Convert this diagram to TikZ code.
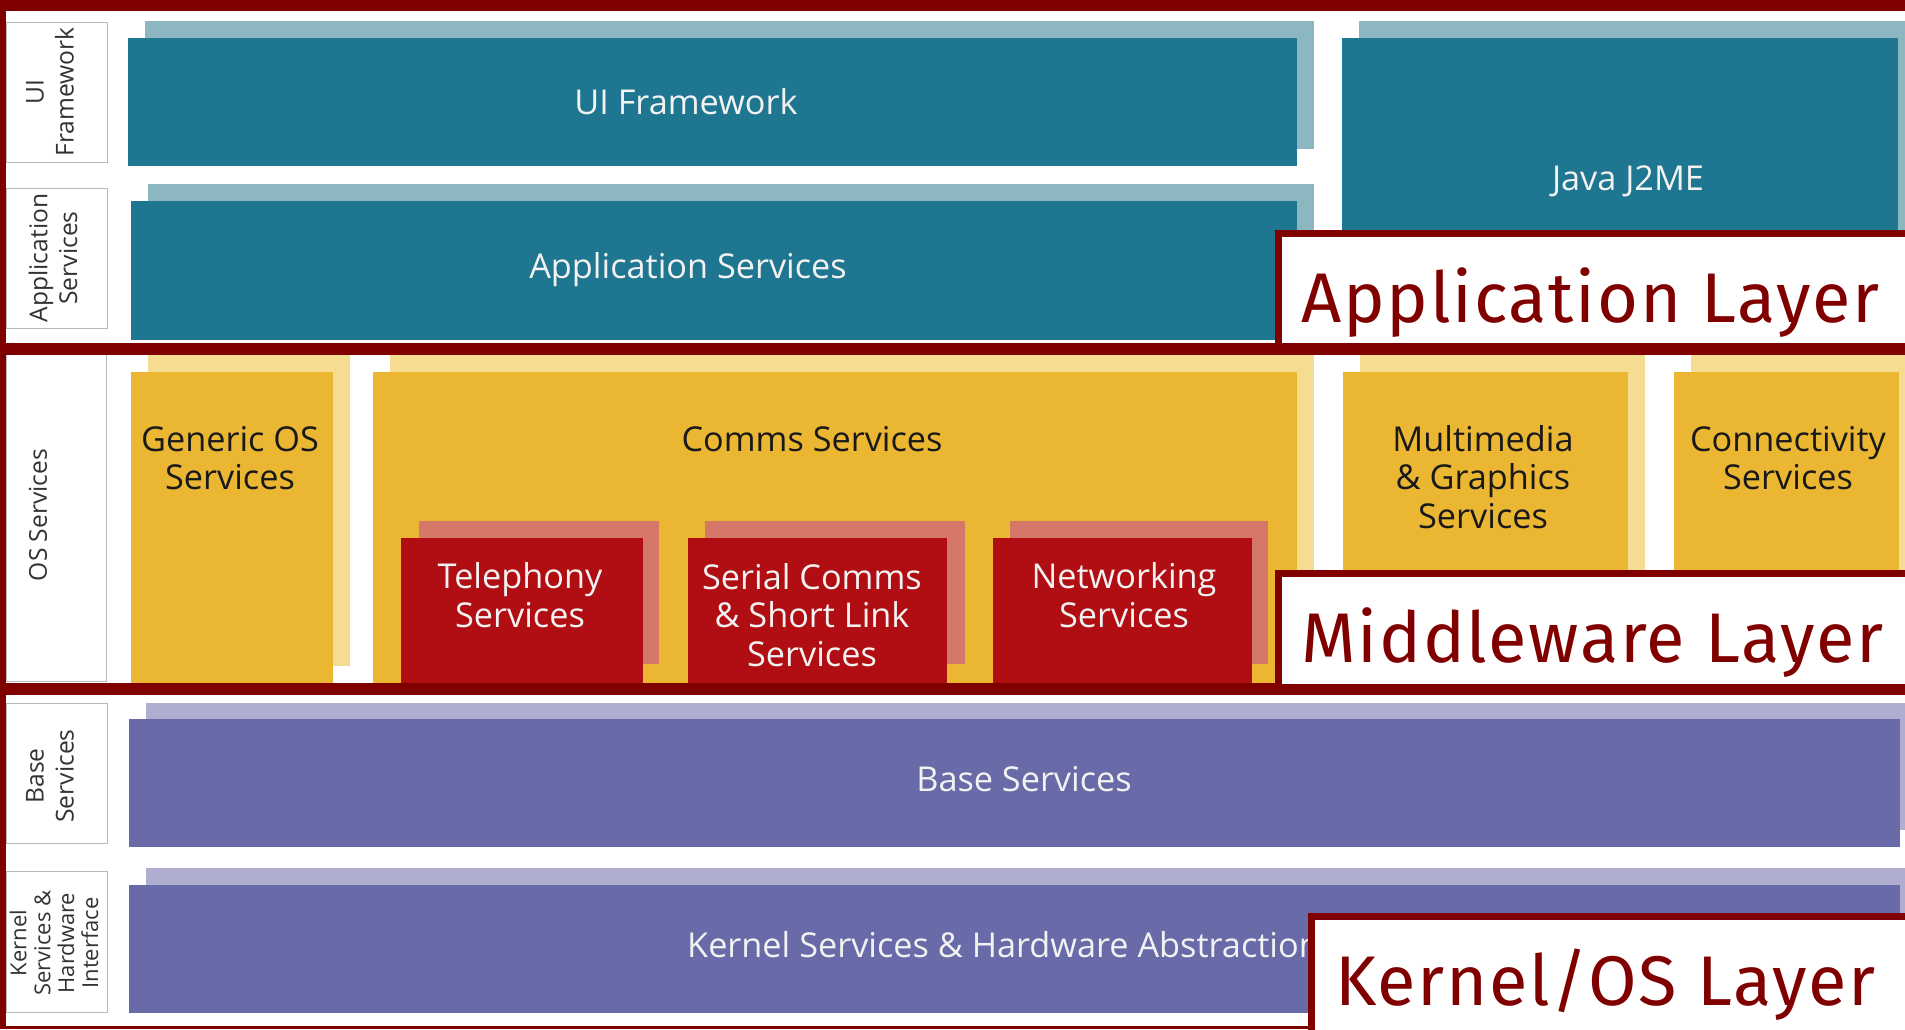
\documentclass[tikz,border=0pt]{standalone}
\usepackage{fontspec}
\setmainfont{Open Sans}
\newfontfamily\layerfont[LetterSpace=2.5]{Fira Sans}

\definecolor{framered}{HTML}{800000}
\definecolor{tealmain}{HTML}{1F7690}
\definecolor{tealshade}{HTML}{8DB7C0}
\definecolor{ambermain}{HTML}{EBB733}
\definecolor{ambershade}{HTML}{F5DC90}
\definecolor{redmain}{HTML}{B00E12}
\definecolor{redshade}{HTML}{D5786A}
\definecolor{violetmain}{HTML}{696AA8}
\definecolor{violetshade}{HTML}{B0AED0}
\definecolor{textwhite}{HTML}{F2F2F2}

\begin{document}
\begin{tikzpicture}[x=0.02cm,y=-0.02cm,
    lighttext/.style={font=\fontsize{19.5}{22}\selectfont,align=center,text=textwhite},
    darktext/.style={font=\fontsize{19.5}{22}\selectfont,align=center,text=black!90},
    sidetext/.style={font=\fontsize{14}{17}\selectfont,align=center,rotate=90,text=black!80},
    layertext/.style={font=\layerfont\fontsize{40}{40}\selectfont,text=framered,anchor=base west},
    layerbox/.style={draw=framered,line width=4pt,fill=white}]

            \useasboundingbox (0,0) rectangle (1905,1029);
            \clip (0,0) rectangle (1905,1029);
            \fill[white] (0,0) rectangle (1905,1029);

            % side labels
            \draw[gray!55,fill=white] (6,22) rectangle (107,162);
            \node[sidetext] (sideui) at (50,92) {UI\\Framework};
            \draw[gray!55,fill=white] (6,188) rectangle (107,328);
            \node[sidetext] (sideapp) at (53,258) {Application\\Services};
            \draw[gray!55,fill=white] (6,350) rectangle (106,681);
            \node[sidetext] (sideos) at (38,515) {OS Services};
            \draw[gray!55,fill=white] (6,703) rectangle (107,843);
            \node[sidetext] (sidebase) at (50,776) {Base\\Services};
            \draw[gray!55,fill=white] (6,871) rectangle (107,1012);
            \node[sidetext,font=\fontsize{12.5}{13.6}\selectfont] (sidekernel) at (54,943) {Kernel\\Services \&\\Hardware\\Interface};

            % teal blocks
            \fill[tealshade] (145,21) rectangle (1314,149);
            \fill[tealmain] (128,38) rectangle (1297,166);
            \node[lighttext] (uifw) at (686,102) {UI Framework};
            \fill[tealshade] (148,184) rectangle (1314,318);
            \fill[tealmain] (131,201) rectangle (1297,340);
            \node[lighttext] (appsvc) at (688,270) {Application Services};
            \fill[tealshade] (1359,21) rectangle (1920,330);
            \fill[tealmain] (1342,38) rectangle (1898,345);
            \node[lighttext] (java) at (1628,181) {Java J2ME};

            % yellow blocks
            \fill[ambershade] (148,355) rectangle (350,666);
            \fill[ambermain] (131,372) rectangle (333,683);
            \node[darktext] (genos) at (230,458) {Generic OS\\Services};
            \fill[ambershade] (390,355) rectangle (1314,666);
            \fill[ambermain] (373,372) rectangle (1297,683);
            \node[darktext] (comms) at (812,439) {Comms Services};
            \fill[ambershade] (1360,355) rectangle (1645,666);
            \fill[ambermain] (1343,372) rectangle (1628,683);
            \node[darktext] (multimedia) at (1483,477) {Multimedia\\\& Graphics\\Services};
            \fill[ambershade] (1691,355) rectangle (1920,666);
            \fill[ambermain] (1674,372) rectangle (1899,683);
            \node[darktext] (connect) at (1788,458) {Connectivity\\Services};

            % red blocks inside comms
            \fill[redshade] (419,521) rectangle (659,664);
            \fill[redmain] (401,538) rectangle (643,683);
            \node[lighttext] (telephony) at (520,595) {Telephony\\Services};
            \fill[redshade] (705,521) rectangle (965,664);
            \fill[redmain] (688,538) rectangle (947,683);
            \node[lighttext] (serial) at (812,615) {Serial Comms\\\& Short Link\\Services};
            \fill[redshade] (1010,521) rectangle (1268,664);
            \fill[redmain] (993,538) rectangle (1252,683);
            \node[lighttext] (networking) at (1124,595) {Networking\\Services};

            % violet blocks
            \fill[violetshade] (146,703) rectangle (1917,830);
            \fill[violetmain] (129,719) rectangle (1900,847);
            \node[lighttext] (basesvc) at (1024,779) {Base Services};
            \fill[violetshade] (146,868) rectangle (1917,996);
            \fill[violetmain] (129,885) rectangle (1900,1013);
            \node[lighttext,anchor=west] (kernelsvc) at (681,945) {Kernel Services \& Hardware Abstraction};

            % frame bands
            \fill[framered] (0,0) rectangle (1905,11);
            \fill[framered] (0,343) rectangle (1905,355);
            \fill[framered] (0,683) rectangle (1905,695);
            \fill[framered] (0,1026) rectangle (1905,1029);
            \fill[framered] (0,0) rectangle (6,1029);

            % layer labels
            \draw[layerbox] (1278.5,233.5) rectangle (1950,347);
            \node[layertext] (applayer) at (1295,322) {Application Layer};
            \draw[layerbox] (1278.5,573.5) rectangle (1950,687);
            \node[layertext] (midlayer) at (1295,662) {Middleware Layer};
            \draw[layerbox] (1311.5,916.5) rectangle (1950,1060);
            \node[layertext] (kernlayer) at (1329,1005) {Kernel/OS Layer};
        \end{tikzpicture}
\end{document}
